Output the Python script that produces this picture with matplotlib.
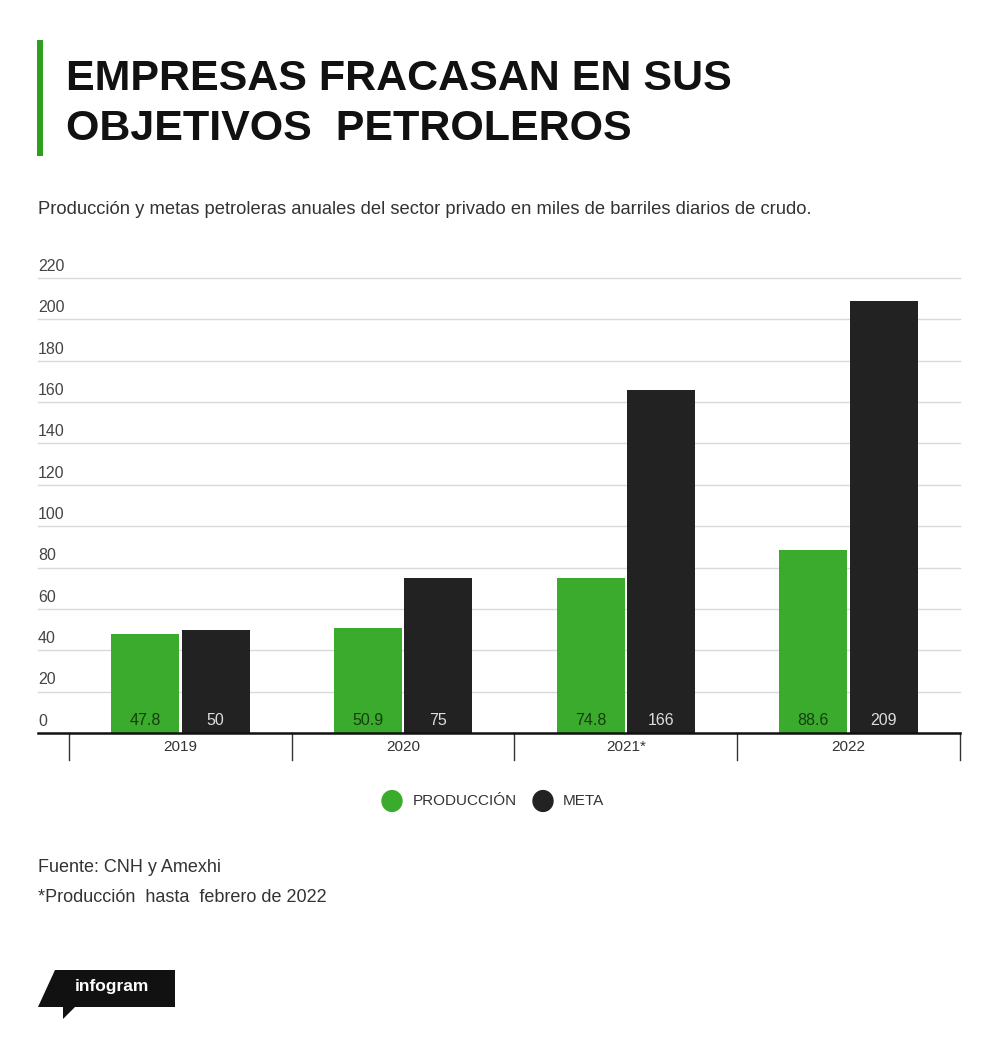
import matplotlib
matplotlib.use("Agg")
import matplotlib.pyplot as plt
from matplotlib.patches import Polygon, Rectangle
import numpy as np

years = ["2019", "2020", "2021*", "2022"]
produccion = [47.8, 50.9, 74.8, 88.6]
meta = [50, 75, 166, 209]
prod_labels = ["47.8", "50.9", "74.8", "88.6"]
meta_labels = ["50", "75", "166", "209"]
y_ticks = [0, 20, 40, 60, 80, 100, 120, 140, 160, 180, 200, 220]

GREEN = "#3aab2c"
BLACK = "#222222"
W, H = 1000, 1040

plt.rcParams["font.family"] = ["Liberation Sans", "DejaVu Sans"]

fig = plt.figure(figsize=(W / 100, H / 100), dpi=100)


def fx(px):
    return px / W


def fy(py):
    return 1 - py / H


# title block
fig.add_artist(Rectangle((fx(37), fy(156)), fx(6), fy(40) - fy(156),
                         transform=fig.transFigure, color="#2e9e1f", lw=0))
fig.text(fx(66), fy(79), "EMPRESAS FRACASAN EN SUS", weight="bold",
         fontsize=31, color="#111111", va="center")
fig.text(fx(66), fy(129), "OBJETIVOS  PETROLEROS", weight="bold",
         fontsize=31, color="#111111", va="center")
fig.text(fx(38), fy(210), "Producción y metas petroleras anuales del sector privado "
         "en miles de barriles diarios de crudo.", fontsize=13.2, color="#333333",
         va="center")

# chart axes
left_px, right_px = 38, 960
cat_w = 223.0
extra = (69 - left_px) / cat_w
ax = fig.add_axes([fx(left_px), fy(733), fx(right_px - left_px), fy(278) - fy(733)])
ax.set_xlim(-0.5 - extra, len(years) - 0.5)
ax.set_ylim(0, 220)
for s in ax.spines.values():
    s.set_visible(False)
ax.set_xticks([])
ax.set_yticks([])

for t in y_ticks[1:]:
    ax.axhline(t, color="#d9d9d9", lw=1, zorder=0, clip_on=False)
for t in y_ticks:
    ax.text(-0.5 - extra, t + 2, str(t), fontsize=11.5, color="#444444",
            ha="left", va="bottom")

x = np.arange(len(years))
bw = 0.305
off = 0.158
ax.bar(x - off, produccion, bw, color=GREEN, zorder=2)
ax.bar(x + off, meta, bw, color=BLACK, zorder=2)
for i in range(len(years)):
    ax.text(x[i] - off, 2.3, prod_labels[i], ha="center", va="bottom",
            fontsize=11.5, color="#163d10", zorder=3)
    ax.text(x[i] + off, 2.3, meta_labels[i], ha="center", va="bottom",
            fontsize=11.5, color="#dddddd", zorder=3)

ax.axhline(0, color="#111111", lw=1.8, zorder=4, clip_on=False)
for b in np.arange(len(years) + 1) - 0.5:
    ax.plot([b, b], [0, -13], color="#333333", lw=1, clip_on=False)
for i, yr in enumerate(years):
    ax.text(i, -7, yr, ha="center", va="center", fontsize=11, color="#333333")

# legend
fig.add_artist(plt.Circle((fx(392), fy(801)), fx(10), transform=fig.transFigure,
                          color=GREEN))
fig.add_artist(plt.Circle((fx(543), fy(801)), fx(10), transform=fig.transFigure,
                          color=BLACK))
fig.text(fx(413), fy(801), "PRODUCCIÓN", fontsize=11, color="#333333", va="center")
fig.text(fx(563), fy(801), "META", fontsize=11, color="#333333", va="center")

# footer
fig.text(fx(38), fy(868), "Fuente: CNH y Amexhi", fontsize=13, color="#333333",
         va="center")
fig.text(fx(38), fy(898), "*Producción  hasta  febrero de 2022", fontsize=13,
         color="#333333", va="center")

# infogram logo
logo = [(55, 970), (175, 970), (175, 1007), (75, 1007), (63, 1019), (63, 1007), (38, 1007)]
fig.add_artist(Polygon([(fx(a), fy(b)) for a, b in logo], closed=True,
                       transform=fig.transFigure, color="#111111", lw=0))
fig.text(fx(112), fy(987), "infogram", fontsize=12.5, color="white", ha="center",
         va="center", weight="semibold")

fig.savefig("out.png", dpi=100, facecolor="white")
